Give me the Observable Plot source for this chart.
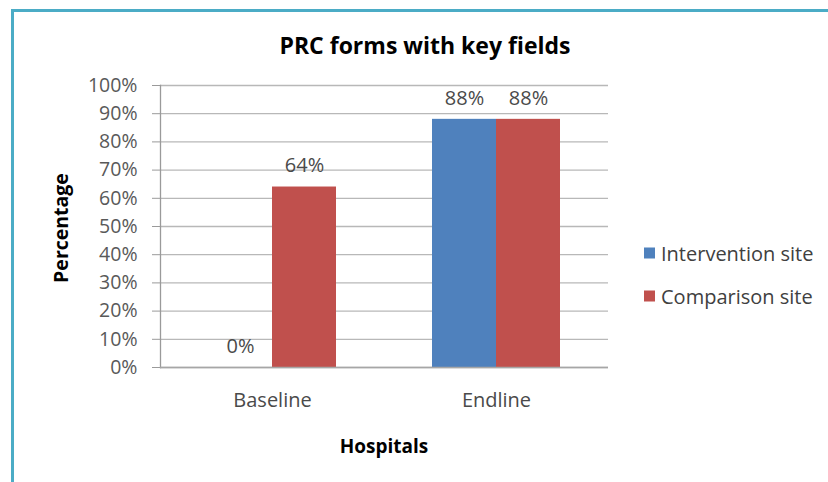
<!DOCTYPE html>
<html><head><meta charset="utf-8">
<script src="https://cdn.jsdelivr.net/npm/d3@7"></script>
<script src="https://cdn.jsdelivr.net/npm/@observablehq/plot@0.6"></script>
<style>
html,body{margin:0;padding:0;background:#fff;overflow:hidden;}
#wrap{position:relative;width:828px;height:482px;overflow:hidden;font-family:"Open Sans",Lato,sans-serif;}
#bl{position:absolute;left:11px;top:9px;width:3px;height:473px;background:#4bacc6;}
#bt{position:absolute;left:11px;top:9px;width:817px;height:3px;background:#4bacc6;}
.t{position:absolute;white-space:nowrap;color:#000;}
#title{left:0;width:850px;top:45px;transform:translateY(-50%);text-align:center;font-weight:bold;font-size:23px;}
#ytitle{left:60px;top:228px;transform:translate(-50%,-50%) rotate(-90deg);font-weight:bold;font-size:19.5px;}
#xtitle{left:384px;top:446px;transform:translate(-50%,-50%);font-weight:bold;font-size:19px;}
.leg{position:absolute;left:644px;font-size:20px;color:#404040;display:flex;align-items:center;transform:translateY(-50%);}
.leg span.sw{display:inline-block;width:11px;height:11px;margin-right:6px;}
svg{position:absolute;left:0;top:0;}
</style></head>
<body><div id="wrap"><div id="bl"></div><div id="bt"></div></div>
<script>
const hospitals = ["Baseline", "Endline"];
const series = ["Intervention site", "Comparison site"];
const intervention = [0, 0.88];
const comparison = [0.64, 0.88];
const colors = ["#4f81bd", "#c0504d"];
const yTicks = [0, 0.1, 0.2, 0.3, 0.4, 0.5, 0.6, 0.7, 0.8, 0.9, 1.0];

const rows = [];
hospitals.forEach((h, i) => {
  rows.push({hospital: h, site: series[0], value: intervention[i]});
  rows.push({hospital: h, site: series[1], value: comparison[i]});
});
const intRows = rows.filter(d => d.site === series[0]);
const cmpRows = rows.filter(d => d.site === series[1]);
const fmt = d3.format(".0%");
const ff = "'Open Sans', Lato, sans-serif";

const chart = Plot.plot({
  width: 828, height: 482,
  marginLeft: 160, marginRight: 220, marginTop: 85, marginBottom: 115,
  style: {fontFamily: ff, background: "transparent"},
  x: {domain: hospitals, paddingInner: 0.7143, paddingOuter: 0.3571, label: null},
  y: {domain: [0, 1], label: null},
  color: {domain: series, range: colors},
  marks: [
    Plot.ruleY(yTicks, {stroke: "#b8b8b8", strokeWidth: 1.3}),
    Plot.axisY({ticks: yTicks, tickFormat: fmt, tickSize: 8, tickPadding: 15, stroke: "#9a9a9a", fill: "#595959", fontSize: 19.5, label: null}),
    Plot.frame({anchor: "left", stroke: "#9a9a9a", strokeWidth: 1.3}),
    Plot.barY(intRows, {x: "hospital", y: "value", fill: "site", dx: -32}),
    Plot.barY(cmpRows, {x: "hospital", y: "value", fill: "site", dx: 32}),
    Plot.ruleY([0], {stroke: "#a6a6a6", strokeWidth: 1.5}),
    Plot.text(intRows, {x: "hospital", y: "value", text: d => fmt(d.value), dx: -32, dy: -21, lineAnchor: "middle", fontSize: 20, fill: "#4a4a4a"}),
    Plot.text(cmpRows, {x: "hospital", y: "value", text: d => fmt(d.value), dx: 32, dy: -21, lineAnchor: "middle", fontSize: 20, fill: "#4a4a4a"}),
    Plot.axisX({tickSize: 0, tickPadding: 25, fontSize: 20, fill: "#4a4a4a", label: null})
  ]
});
const wrap = document.getElementById("wrap");
wrap.appendChild(chart);

function addText(id, cls, txt) {
  const d = document.createElement("div");
  d.id = id; d.className = cls; d.textContent = txt; wrap.appendChild(d);
}
addText("title", "t", "PRC forms with key fields");
addText("ytitle", "t", "Percentage");
addText("xtitle", "t", "Hospitals");
const legY = [253, 296];
series.forEach((s, i) => {
  const d = document.createElement("div");
  d.className = "leg"; d.style.top = legY[i] + "px";
  const sw = document.createElement("span"); sw.className = "sw"; sw.style.background = colors[i];
  d.appendChild(sw); d.appendChild(document.createTextNode(s));
  wrap.appendChild(d);
});
</script></body></html>
